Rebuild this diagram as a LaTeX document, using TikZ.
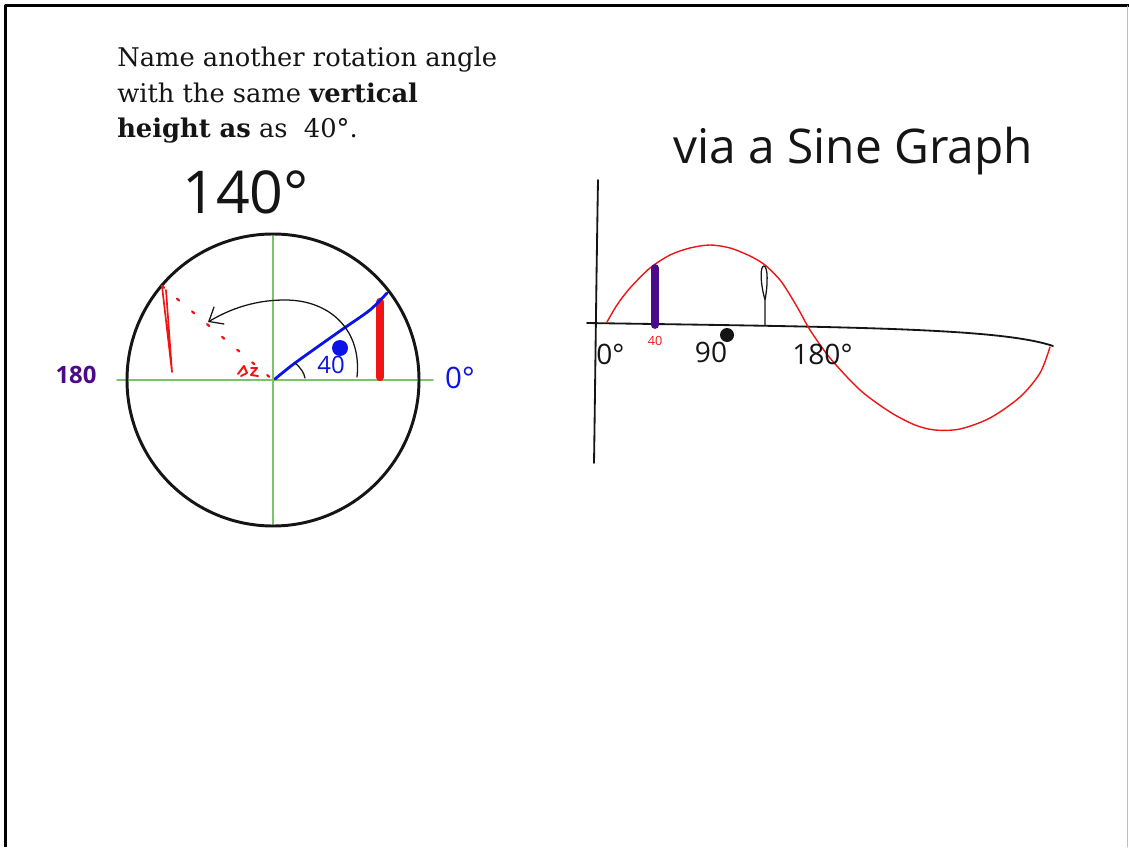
\documentclass[tikz,border=0pt]{standalone}
\usepackage{fontspec}
\setmainfont{DejaVu Serif}
\newfontfamily\hand{Open Sans}
\usetikzlibrary{arrows.meta,positioning,calc}
\definecolor{ink}{HTML}{151515}
\definecolor{grid}{HTML}{7DC36B}
\definecolor{penblue}{HTML}{0A14E6}
\definecolor{penred}{HTML}{F01414}
\definecolor{penpurple}{HTML}{4A0A8A}
\tikzset{
  every picture/.style={line cap=round, line join=round},
  frameline/.style={draw=black, line width=2.2pt, line cap=butt},
  question/.style={font=\fontsize{18.3}{26}\selectfont, text=ink, inner sep=0pt},
  handbig/.style={font=\hand\fontsize{42}{46}\selectfont, text=ink, inner sep=0pt},
  handmid/.style={font=\hand\fontsize{34}{38}\selectfont, text=ink, inner sep=0pt},
  handlab/.style={font=\hand\fontsize{17}{20}\selectfont, text=ink, inner sep=0pt},
  gridline/.style={draw=grid, line width=1.4pt},
  rim/.style={draw=ink, line width=2.1pt},
  pen/.style={draw=ink, line width=0.9pt},
  bluepen/.style={draw=penblue, line width=2pt},
  redpen/.style={draw=penred, line width=0.8pt},
  turn/.style={pen, -{Straight Barb[length=3mm, width=5mm]}},
}
\begin{document}
\begin{tikzpicture}[x=0.025cm, y=-0.025cm]
\useasboundingbox (0,0) rectangle (1129,847);
\draw[frameline] (5.5,847) -- (5.5,5.5) -- (1129,5.5);
\draw[draw=black!25, line width=0.7pt] (1127.5,6) -- (1127.5,847);

% question and answer
\node[question, anchor=base west] (q1) at (117,67) {Name another rotation angle};
\node[question, anchor=base west] (q2) at (117,103) {with the same \textbf{vertical}};
\node[question, anchor=base west] (q3) at (117,138) {\textbf{height as} as\ \ 40°.};
\node[handbig, anchor=base west] (ans) at (182,213) {140°};
\node[handmid, anchor=base west] (via) at (673,164) {via a Sine Graph};

% unit circle
\coordinate (O) at (273,380);
\coordinate (P40) at (387,293);
\coordinate (P140) at (162,286);
\draw[gridline] (117,380) -- (433,380);
\draw[gridline] (273,234) -- (273,526);
\draw[rim] (O) circle[radius=146];
\draw[redpen, line width=1.6pt, dash pattern=on 2pt off 12pt] (P140) -- (O);
\draw[redpen, line width=1.2pt] (P140) -- (172,372) -- (166,290);
\draw[penred, line width=6pt] (380,302) -- (380,377);
\draw[redpen, line width=1.4pt] (238,374) -- (244,366) -- (247,373) -- (241,376) (251,368) -- (257,368) -- (251,375) -- (258,376);
\draw[bluepen] plot[smooth] coordinates {(275,379) (295,363) (340,331) (370,310) (P40)};
\draw[pen] (295,363) .. controls (301,368) and (304,373) .. (305,378);
\draw[turn] (357,377) .. controls (362,330) and (330,300) .. (285,300) .. controls (250,300) and (225,312) .. (208,322);
\fill[penblue] (340,348) circle[radius=8];
\node[handlab, text=penblue, anchor=base] (l40) at (331,373) {40};
\node[handlab, font=\hand\bfseries\fontsize{17}{20}\selectfont, text=penpurple, anchor=base] (l180) at (76,383) {180};
\node[handlab, font=\hand\fontsize{21}{24}\selectfont, text=penblue, anchor=base] (l0) at (460,388) {0°};

% sine graph
\draw[pen, line width=1.3pt] (598,180) .. controls (596,300) and (595,400) .. (594,463);
\draw[pen, line width=1.3pt] (587,323) .. controls (850,327) and (1000,328) .. (1053,346);
\draw[redpen, line width=1pt] plot[smooth] coordinates {(607,322) (617,305) (630,288) (650,268) (670,255) (690,248) (710,245) (730,248) (750,256) (765,265) (780,280) (790,295) (800,312) (810,330) (830,358) (860,390) (890,412) (915,425) (935,430) (960,429) (990,418) (1020,397) (1040,373) (1050,347)};
\draw[draw=penpurple, line width=5.5pt] (655,268) -- (655,325);
\draw[pen] (765,325) -- (765,300) .. controls (760,282) and (760,266) .. (764,266) .. controls (768,267) and (768,284) .. (765,300);
\fill[ink] (727,335) circle[radius=7];
\node[handlab, font=\hand\fontsize{9}{10}\selectfont, text=penred, anchor=base] (s40) at (655,345) {40};
\node[handlab, font=\hand\fontsize{20}{22}\selectfont, anchor=base west] (s0) at (596,364) {0°};
\node[handlab, font=\hand\fontsize{20}{22}\selectfont, anchor=base] (s90) at (711,362) {90};
\node[handlab, font=\hand\fontsize{20}{22}\selectfont, anchor=base west] (s180) at (792,364) {180°};
\end{tikzpicture}
\end{document}
